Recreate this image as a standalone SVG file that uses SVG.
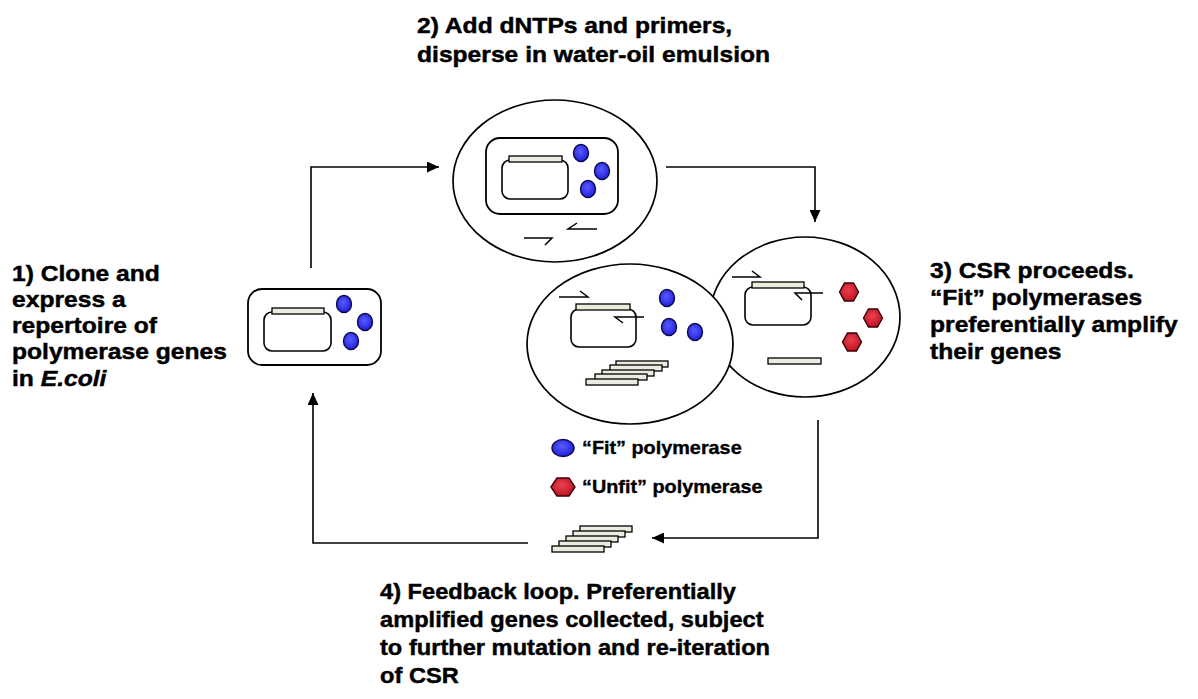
<svg xmlns="http://www.w3.org/2000/svg" width="1198" height="699" viewBox="0 0 1198 699">
  <defs>
    <radialGradient id="gBlue" cx="45%" cy="40%" r="65%">
      <stop offset="0" stop-color="#5a5aff"/>
      <stop offset="1" stop-color="#1c1cd8"/>
    </radialGradient>
    <radialGradient id="gRed" cx="45%" cy="40%" r="65%">
      <stop offset="0" stop-color="#ec4050"/>
      <stop offset="1" stop-color="#b8101e"/>
    </radialGradient>
    <marker id="arrow" markerUnits="userSpaceOnUse" markerWidth="13" markerHeight="11" refX="12" refY="5.5" orient="auto">
      <path d="M0,0 L12,5.5 L0,11 z" fill="#000"/>
    </marker>
    <polygon id="hex" points="-9.5,0 -4.5,-9 4.5,-9 9.5,0 4.5,9 -4.5,9"/>
  </defs>
  <style>
    .drop { fill: #fff; stroke: #000; stroke-width: 1.7; }
    .cell { fill: #fff; stroke: #000; stroke-width: 1.8; }
    .plasmid { fill: #fff; stroke: #000; stroke-width: 1.6; }
    .gene { fill: #ecebe0; stroke: #000; stroke-width: 1.3; }
    .fit { fill: url(#gBlue); stroke: #0b0b50; stroke-width: 1.4; }
    .unfit { fill: url(#gRed); stroke: #3a0008; stroke-width: 1.4; }
    .primer { fill: none; stroke: #000; stroke-width: 1.5; }
    .flow { fill: none; stroke: #000; stroke-width: 1.6; marker-end: url(#arrow); }
    .lbl { font-family: "Liberation Sans", Arial, sans-serif; font-weight: bold; font-size: 22px; fill: #000; stroke: #000; stroke-width: 0.45; }
    .key { font-family: "Liberation Sans", Arial, sans-serif; font-weight: bold; font-size: 17.7px; fill: #000; stroke: #000; stroke-width: 0.35; }
  </style>

  <rect width="1198" height="699" fill="#fff"/>

  <!-- cycle connectors -->
  <g id="connectors">
    <path class="flow" d="M311,268 V167 H439"/>
    <path class="flow" d="M666,167 H815 V222"/>
    <path class="flow" d="M818,420 V538 H652"/>
    <path class="flow" d="M528,543 H313 V393"/>
  </g>

  <!-- step 1: E. coli cell with plasmid and expressed polymerases -->
  <g id="ecoli-cell">
    <rect class="cell" x="248" y="289" width="133" height="76" rx="14"/>
    <rect class="plasmid" x="264" y="312" width="67" height="39" rx="8"/>
    <rect class="gene" x="272" y="308" width="52" height="6"/>
    <ellipse class="fit" cx="344" cy="304" rx="7.5" ry="8.5"/>
    <ellipse class="fit" cx="365" cy="322" rx="7.5" ry="8.5"/>
    <ellipse class="fit" cx="351" cy="341" rx="7.5" ry="8.5"/>
  </g>

  <!-- step 2: cell dispersed in an emulsion droplet with primers -->
  <g id="droplet-initial">
    <ellipse class="drop" cx="555" cy="181" rx="102" ry="81"/>
    <rect class="cell" x="486" y="138" width="132" height="76" rx="14"/>
    <rect class="plasmid" x="502" y="160" width="66" height="39" rx="8"/>
    <rect class="gene" x="509" y="156" width="53" height="6"/>
    <ellipse class="fit" cx="581" cy="153" rx="7.5" ry="8.5"/>
    <ellipse class="fit" cx="602" cy="171" rx="7.5" ry="8.5"/>
    <ellipse class="fit" cx="588" cy="189" rx="7.5" ry="8.5"/>
    <path class="primer" d="M524,238 H552 L545,245"/>
    <path class="primer" d="M597,229 H568 L577,223"/>
  </g>

  <!-- step 3: droplet with an unfit polymerase -->
  <g id="droplet-unfit">
    <ellipse class="drop" cx="805" cy="317" rx="95" ry="80"/>
    <rect class="plasmid" x="745" y="287" width="66" height="38" rx="8"/>
    <rect class="gene" x="752" y="282" width="52" height="6"/>
    <path class="primer" d="M732,277 H760 L752,271"/>
    <path class="primer" d="M823,293 H795 L802,300"/>
    <use href="#hex" class="unfit" x="849" y="292"/>
    <use href="#hex" class="unfit" x="873" y="318"/>
    <use href="#hex" class="unfit" x="852" y="342"/>
    <rect class="gene" x="768" y="358" width="53" height="6"/>
  </g>

  <!-- step 3: droplet with a fit polymerase amplifying its gene -->
  <g id="droplet-fit">
    <ellipse class="drop" cx="630" cy="344" rx="103" ry="80"/>
    <rect class="plasmid" x="571" y="309" width="65" height="38" rx="8"/>
    <rect class="gene" x="576" y="304" width="54" height="6"/>
    <path class="primer" d="M559,297 H588 L580,291"/>
    <path class="primer" d="M644,317 H615 L623,323"/>
    <ellipse class="fit" cx="667" cy="298" rx="7.5" ry="8.5"/>
    <ellipse class="fit" cx="669" cy="327" rx="7.5" ry="8.5"/>
    <ellipse class="fit" cx="695" cy="332" rx="7.5" ry="8.5"/>
    <rect class="gene" x="616" y="361" width="52" height="6"/>
    <rect class="gene" x="610" y="365" width="52" height="6"/>
    <rect class="gene" x="602" y="370" width="52" height="6"/>
    <rect class="gene" x="595" y="374" width="52" height="6"/>
    <rect class="gene" x="586" y="379" width="52" height="6"/>
  </g>

  <!-- step 4: collected amplified genes -->
  <g id="collected-genes">
    <rect class="gene" x="580" y="526" width="52" height="6"/>
    <rect class="gene" x="573" y="531" width="52" height="6"/>
    <rect class="gene" x="566" y="536" width="52" height="6"/>
    <rect class="gene" x="559" y="541" width="52" height="6"/>
    <rect class="gene" x="552" y="546" width="52" height="6"/>
  </g>

  <!-- key -->
  <g id="legend">
    <ellipse class="fit" cx="563" cy="448" rx="11" ry="8.5"/>
    <polygon class="unfit" points="551,487 557,478 569,478 575,487 569,496 557,496"/>
    <g transform="translate(582,454) scale(1.12,1)"><text class="key" x="0" y="0">“Fit” polymerase</text></g>
    <g transform="translate(582,493) scale(1.12,1)"><text class="key" x="0" y="0">“Unfit” polymerase</text></g>
  </g>

  <!-- step captions -->
  <g id="caption-1" transform="translate(12,0) scale(1.12,1)">
    <text class="lbl" x="0" y="281">1) Clone and</text>
    <text class="lbl" x="0" y="307">express a</text>
    <text class="lbl" x="0" y="333">repertoire of</text>
    <text class="lbl" x="0" y="359">polymerase genes</text>
    <text class="lbl" x="0" y="386">in <tspan font-style="italic">E.coli</tspan></text>
  </g>
  <g id="caption-2" transform="translate(417,0) scale(1.12,1)">
    <text class="lbl" x="0" y="33">2) Add dNTPs and primers,</text>
    <text class="lbl" x="0" y="62">disperse in water-oil emulsion</text>
  </g>
  <g id="caption-3" transform="translate(930,0) scale(1.12,1)">
    <text class="lbl" x="0" y="278">3) CSR proceeds.</text>
    <text class="lbl" x="0" y="305">“Fit” polymerases</text>
    <text class="lbl" x="0" y="332">preferentially amplify</text>
    <text class="lbl" x="0" y="359">their genes</text>
  </g>
  <g id="caption-4" transform="translate(380,0) scale(1.075,1)">
    <text class="lbl" x="0" y="599">4) Feedback loop. Preferentially</text>
    <text class="lbl" x="0" y="627">amplified genes collected, subject</text>
    <text class="lbl" x="0" y="655">to further mutation and re-iteration</text>
    <text class="lbl" x="0" y="683">of CSR</text>
  </g>
</svg>
